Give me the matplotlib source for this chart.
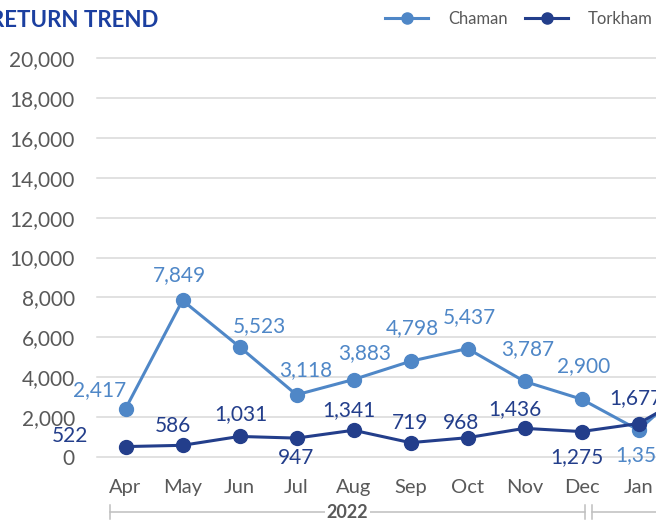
import matplotlib
matplotlib.use("Agg")
import matplotlib.pyplot as plt
from matplotlib.lines import Line2D
import matplotlib.ticker as mticker

plt.rcParams['font.family'] = ['Lato', 'DejaVu Sans']

# ---------------- data ----------------
months = ["Apr", "May", "Jun", "Jul", "Aug", "Sep", "Oct", "Nov", "Dec", "Jan", "Feb"]
chaman = [2417, 7849, 5523, 3118, 3883, 4798, 5437, 3787, 2900, 1352, 3900]
torkham = [522, 586, 1031, 947, 1341, 719, 968, 1436, 1275, 1677, 3300]
years = ["2022", "2023"]
year_first_idx = [0, 9]
year_last_idx = [8, 10]
yticks = list(range(0, 20001, 2000))

# label offsets (pixels: dx right, dy down)
chaman_off = [(-26, -19), (-3, -25), (20, -21), (9, -25), (11, -26), (2, -33),
              (2, -31), (3, -32), (2, -33), (3, 25), (-14, -13)]
torkham_off = [(-56, -11), (-10, -19), (1, -22), (0, 20), (-5, -20), (0, -20),
               (-7, -15), (-10, -19), (-5, 26), (-3, -25), (10, -25)]

C_LIGHT = "#4F87C7"
C_DARK = "#233E8B"
GRAY_TXT = "#595959"
GRID = "#D9D9D9"

W, H = 656, 520
fig = plt.figure(figsize=(W / 100, H / 100), dpi=100)
ax = fig.add_axes([97 / W, (H - 457) / H, 627 / W, 399 / H])

x = list(range(len(months)))
ax.plot(x, chaman, color=C_LIGHT, lw=2.2, marker='o', ms=10, zorder=3, clip_on=False)
ax.plot(x, torkham, color=C_DARK, lw=2.2, marker='o', ms=10, zorder=4, clip_on=False)

ax.set_xlim(-0.5, len(months) - 0.5)
ax.set_ylim(0, 20000)
ax.set_yticks(yticks)
ax.yaxis.set_major_formatter(mticker.FuncFormatter(lambda v, p: f"{int(v):,}"))
ax.set_xticks(x)
ax.set_xticklabels(months)
ax.tick_params(axis='y', length=0, pad=16, labelsize=15, labelcolor=GRAY_TXT)
ax.tick_params(axis='x', length=0, pad=15.5, labelsize=14.5, labelcolor=GRAY_TXT)
for s in ax.spines.values():
    s.set_visible(False)
ax.yaxis.grid(True, color=GRID, lw=1.1)
ax.set_axisbelow(True)
for gl in ax.get_ygridlines():
    gl.set_clip_on(False)

k = 0.72
for i, v in enumerate(chaman):
    dx, dy = chaman_off[i]
    ax.annotate(f"{v:,}", (i, v), xytext=(dx * k, -dy * k), textcoords='offset points',
                ha='center', va='center', fontsize=15, color=C_LIGHT, annotation_clip=False)
for i, v in enumerate(torkham):
    dx, dy = torkham_off[i]
    ax.annotate(f"{v:,}", (i, v), xytext=(dx * k, -dy * k), textcoords='offset points',
                ha='center', va='center', fontsize=15, color=C_DARK, annotation_clip=False)

# year brackets
tr = ax.get_xaxis_transform()
yb = -0.138
th = 0.018
for name, a, b in zip(years, year_first_idx, year_last_idx):
    x0 = a - 0.28 if a == 0 else a - 0.82
    x1 = b + 0.07 if b < len(months) - 1 else b + 1.5
    ax.plot([x0, x1], [yb, yb], transform=tr, color="#BFBFBF", lw=1.1, clip_on=False, zorder=1)
    ax.plot([x0, x0], [yb - th, yb + th], transform=tr, color="#BFBFBF", lw=1.1, clip_on=False)
    if b < len(months) - 1:
        ax.plot([x1, x1], [yb - th, yb + th], transform=tr, color="#BFBFBF", lw=1.1, clip_on=False)
    ax.text((x0 + x1) / 2, yb, name, transform=tr, ha='center', va='center', fontsize=13,
            fontweight='bold', color=GRAY_TXT, clip_on=False,
            bbox=dict(facecolor='white', edgecolor='none', pad=1.5))

# title
fig.text(158 / W, 1 - 20.5 / H, "RETURN TREND", ha='right', va='center', fontsize=16,
         fontweight='bold', color="#1B3FA0")

# legend
ly = 1 - 18 / H
for (xa, xb, xt, name, col) in [(385, 428, 448, "Chaman", C_LIGHT), (525, 568, 588, "Torkham", C_DARK)]:
    fig.add_artist(Line2D([xa / W, xb / W], [ly, ly], transform=fig.transFigure, color=col, lw=2.2))
    fig.add_artist(Line2D([(xa + xb) / 2 / W], [ly], transform=fig.transFigure, color=col,
                          marker='o', ms=8))
    fig.text(xt / W, 1 - 19 / H, name, ha='left', va='center', fontsize=12, color=GRAY_TXT)

fig.savefig("out.png", dpi=100)
